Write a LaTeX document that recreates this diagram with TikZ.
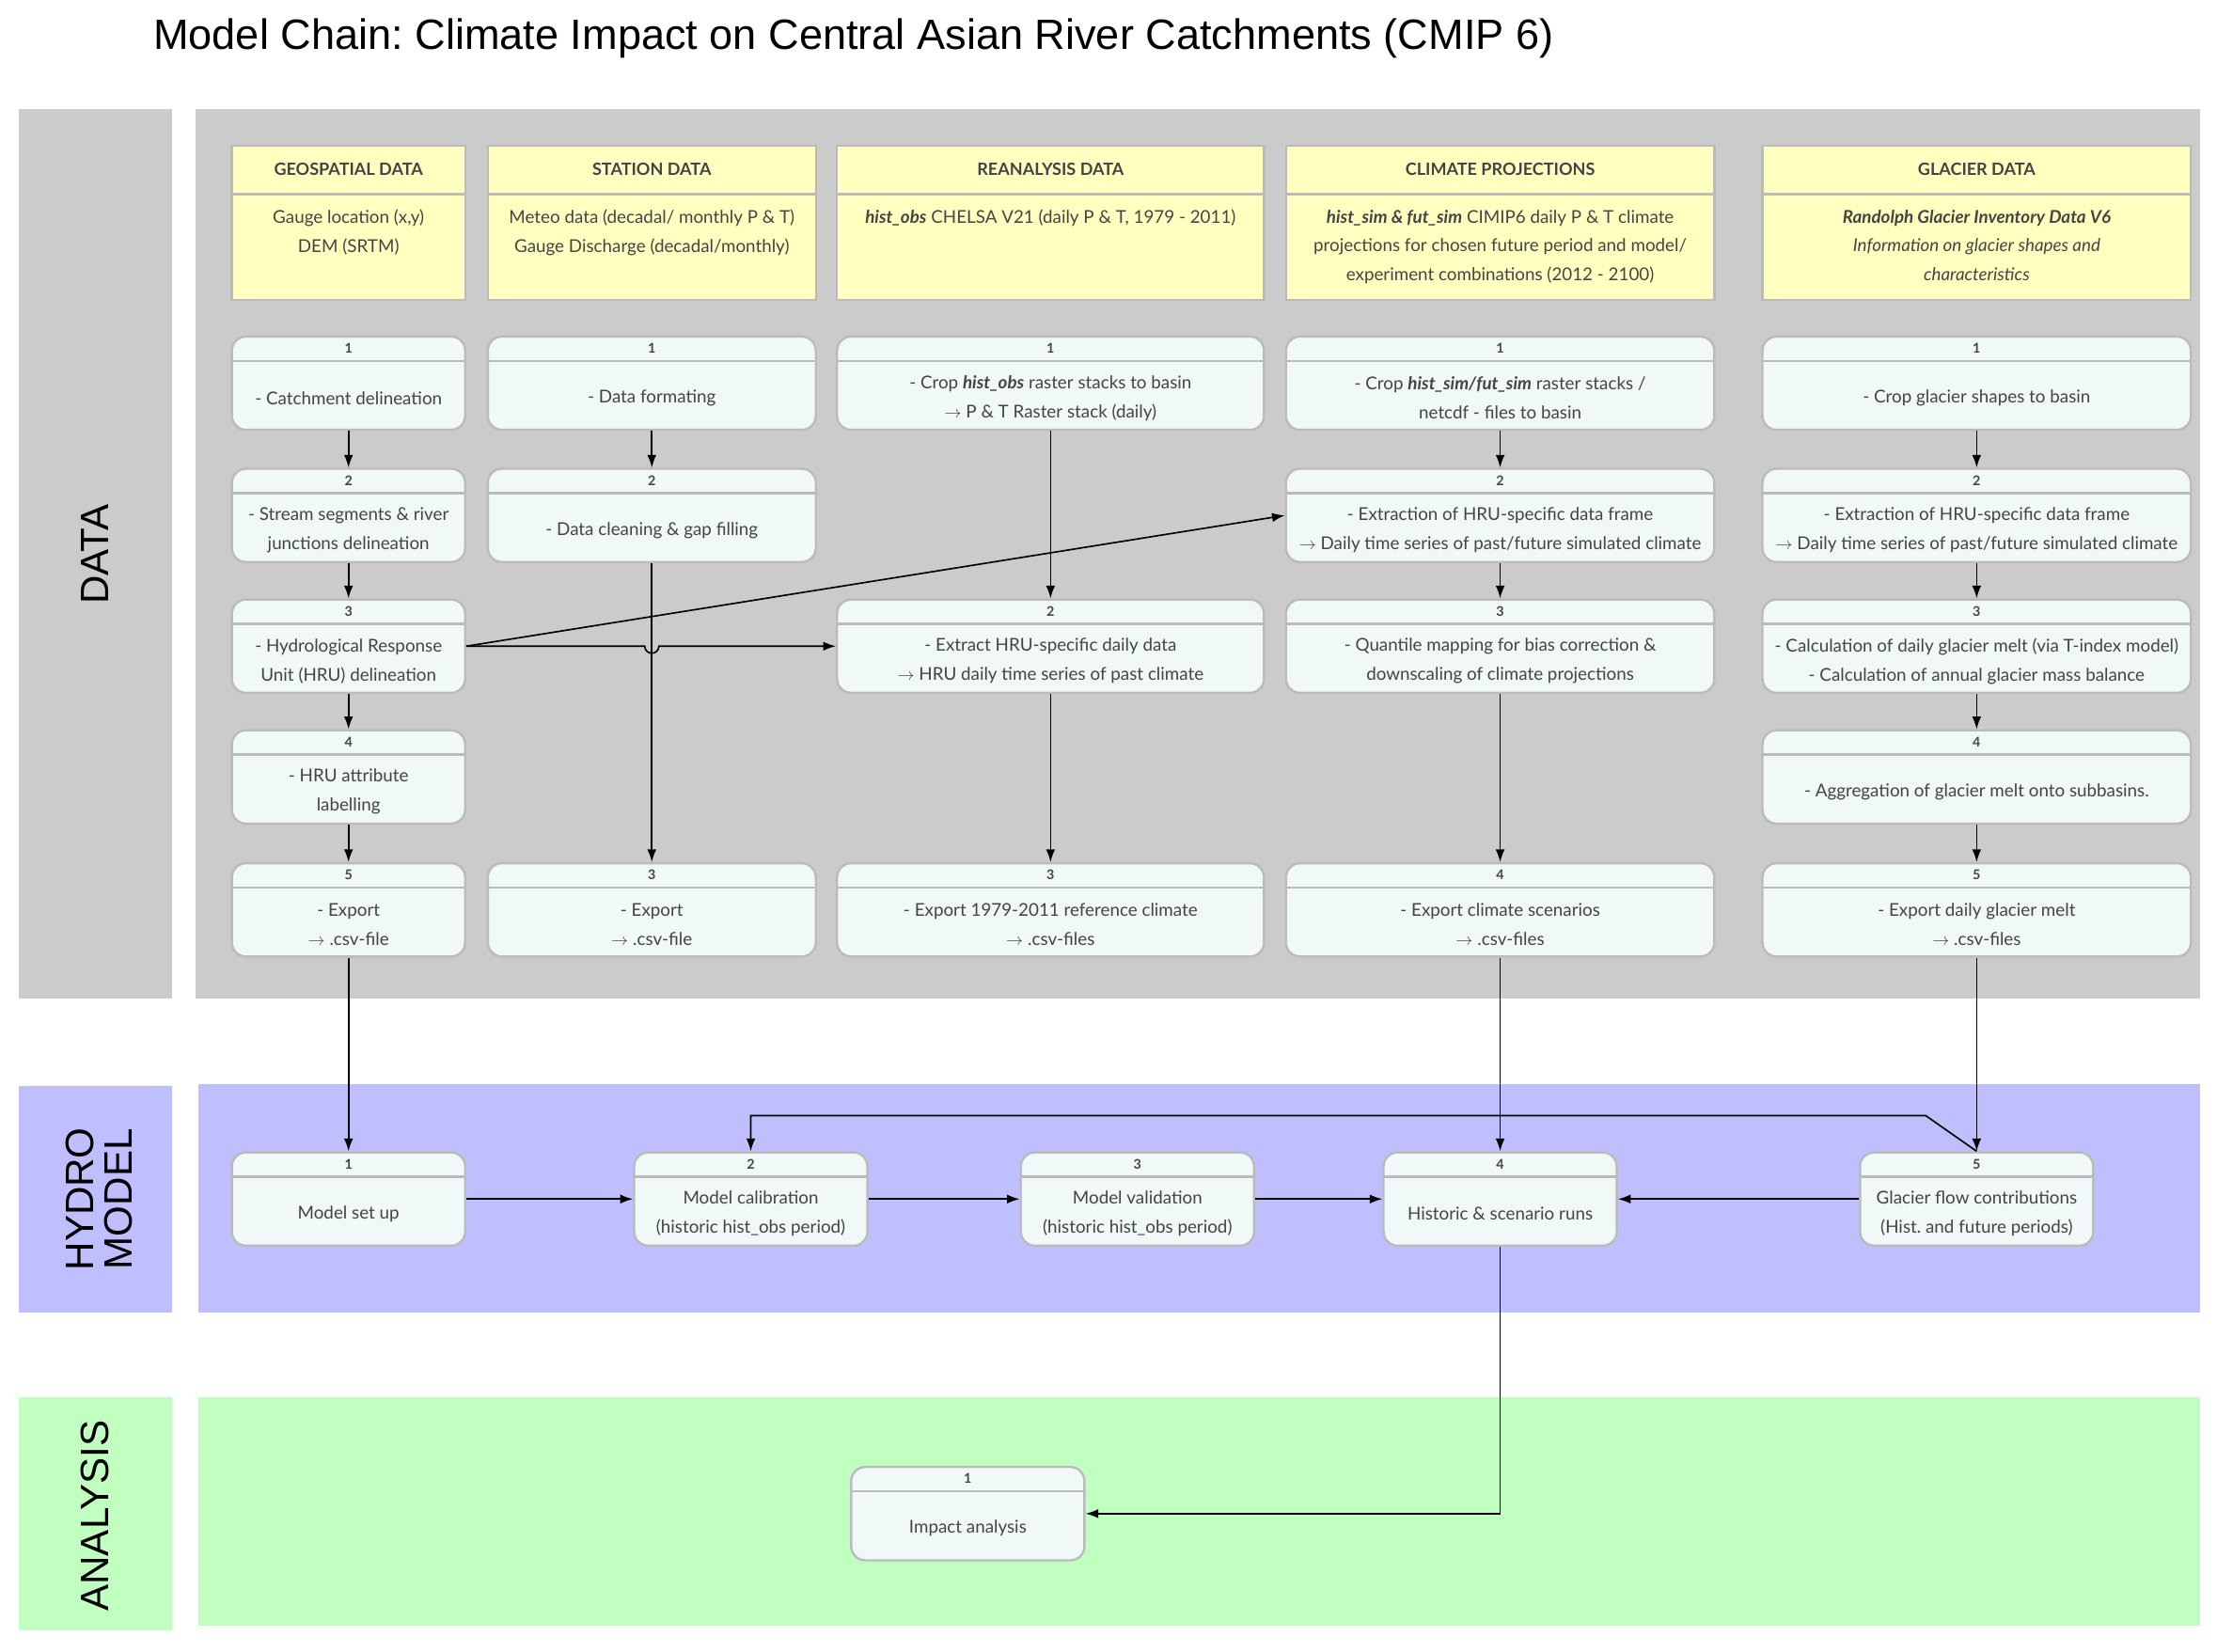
\documentclass[tikz,border=0pt]{standalone}
\usepackage{fontspec}
\setmainfont{Lato}
\newfontfamily\titlefont{Liberation Sans}
\usetikzlibrary{arrows.meta}
\frenchspacing

\definecolor{lanegray}{HTML}{CBCBCB}
\definecolor{lanehydro}{HTML}{BFBFFF}
\definecolor{laneana}{HTML}{C0FFC0}
\definecolor{notefill}{HTML}{FFFFC0}
\definecolor{boxfill}{HTML}{F0F8F8}
\definecolor{boxline}{HTML}{BBBBBB}
\definecolor{boxtext}{HTML}{444444}

\newcommand{\bfit}[1]{\textbf{\textit{#1}}}
\newcommand{\ra}{$\rightarrow$}

\tikzset{
  lanelabel/.style={font=\titlefont\fontsize{28}{27}\selectfont, rotate=90, align=center},
  procbox/.style={draw=boxline, line width=1.6pt, fill=boxfill, rounded corners=10pt,
    minimum height=66pt, inner sep=0pt},
  notebox/.style={draw=boxline, line width=1.6pt, fill=notefill, minimum height=109pt, inner sep=0pt},
  divider/.style={draw=boxline, line width=1.6pt},
  numtext/.style={font=\bfseries\fontsize{9.5}{10}\selectfont, text=boxtext},
  headtext/.style={font=\bfseries\fontsize{12}{13}\selectfont, text=boxtext},
  bodytext/.style={font=\fontsize{12.5}{20.5}\selectfont, text=boxtext, align=center, inner sep=0pt},
  flow/.style={-{Latex[length=9pt,width=6.5pt]}, line width=1.1pt},
}

% step box: name, position, width, number, text
\newcommand{\procnode}[5]{%
  \node[procbox, minimum width=#3] (#1) at (#2) {};
  \draw[divider] ([yshift=-18pt]#1.north west) -- ([yshift=-18pt]#1.north east);
  \node[numtext] (#1-n) at ([yshift=-9pt]#1.north) {#4};
  \node[bodytext] (#1-t) at ([yshift=-10.5pt]#1.center) {#5};
}
% data source box: name, position, width, title, text
\newcommand{\datanode}[5]{%
  \node[notebox, minimum width=#3] (#1) at (#2) {};
  \draw[divider] ([yshift=-35pt]#1.north west) -- ([yshift=-35pt]#1.north east);
  \node[headtext] (#1-n) at ([yshift=-17.5pt]#1.north) {#4};
  \node[bodytext, anchor=north] (#1-t) at ([yshift=-46pt]#1.north) {#5};
}

\begin{document}
\begin{tikzpicture}[x=1pt, y=-1pt]

	\useasboundingbox (0,0) rectangle (1568,1167.7);

	\node[anchor=west, font=\titlefont\fontsize{30}{32}\selectfont] (title) at (105,27)
		{Model Chain: Climate Impact on Central Asian River Catchments (CMIP 6)};

	% lanes
	\fill[lanegray] (13,77) rectangle (122,706);
	\fill[lanegray] (138,77) rectangle (1556,706);
	\fill[lanehydro] (13,768) rectangle (122,928);
	\fill[lanehydro] (140,767) rectangle (1556,928);
	\fill[laneana] (13,988) rectangle (122,1153);
	\fill[laneana] (140,988) rectangle (1556,1150);

	\node[lanelabel] (ldata) at (67,392) {DATA};
	\node[lanelabel] (lhydro) at (70,848) {HYDRO\\MODEL};
	\node[lanelabel] (lana) at (67,1072) {ANALYSIS};

	% data sources
	\datanode{geo}{246.5,157.5}{165pt}{GEOSPATIAL DATA}{Gauge location (x,y)\\DEM (SRTM)}
	\datanode{sta}{461,157.5}{232pt}{STATION DATA}{Meteo data (decadal/ monthly P \& T)\\Gauge Discharge (decadal/monthly)}
	\datanode{rea}{743,157.5}{302pt}{REANALYSIS DATA}{\bfit{hist\_obs} CHELSA V21 (daily P \& T, 1979 - 2011)}
	\datanode{cli}{1061,157.5}{303pt}{CLIMATE PROJECTIONS}{\bfit{hist\_sim \& fut\_sim} CIMIP6 daily P \& T climate\\projections for chosen future period and model/\\experiment combinations (2012 - 2100)}
	\datanode{gla}{1398,157.5}{303pt}{GLACIER DATA}{\bfit{Randolph Glacier Inventory Data V6}\\\textit{Information on glacier shapes and}\\\textit{characteristics}}

	% geospatial steps
	\procnode{g1}{246.5,271}{165pt}{1}{- Catchment delineation}
	\procnode{g2}{246.5,364.5}{165pt}{2}{- Stream segments \& river\\junctions delineation}
	\procnode{g3}{246.5,457}{165pt}{3}{- Hydrological Response\\Unit (HRU) delineation}
	\procnode{g4}{246.5,549.5}{165pt}{4}{- HRU attribute\\labelling}
	\procnode{g5}{246.5,643.5}{165pt}{5}{- Export\\\ra\ .csv-file}

	% station steps
	\procnode{s1}{461,271}{232pt}{1}{- Data formating}
	\procnode{s2}{461,364.5}{232pt}{2}{- Data cleaning \& gap filling}
	\procnode{s3}{461,643.5}{232pt}{3}{- Export\\\ra\ .csv-file}

	% reanalysis steps
	\procnode{r1}{743,271}{302pt}{1}{- Crop \bfit{hist\_obs} raster stacks to basin\\\ra\ P \& T Raster stack (daily)}
	\procnode{r2}{743,457}{302pt}{2}{- Extract HRU-specific daily data\\\ra\ HRU daily time series of past climate}
	\procnode{r3}{743,643.5}{302pt}{3}{- Export 1979-2011 reference climate\\\ra\ .csv-files}

	% climate projection steps
	\procnode{c1}{1061,271}{303pt}{1}{- Crop \bfit{hist\_sim/fut\_sim} raster stacks /\\netcdf - files to basin}
	\procnode{c2}{1061,364.5}{303pt}{2}{- Extraction of HRU-specific data frame\\\ra\ Daily time series of past/future simulated climate}
	\procnode{c3}{1061,457}{303pt}{3}{- Quantile mapping for bias correction \&\\downscaling of climate projections}
	\procnode{c4}{1061,643.5}{303pt}{4}{- Export climate scenarios\\\ra\ .csv-files}

	% glacier steps
	\procnode{gl1}{1398,271}{303pt}{1}{- Crop glacier shapes to basin}
	\procnode{gl2}{1398,364.5}{303pt}{2}{- Extraction of HRU-specific data frame\\\ra\ Daily time series of past/future simulated climate}
	\procnode{gl3}{1398,457}{303pt}{3}{- Calculation of daily glacier melt (via T-index model)\\- Calculation of annual glacier mass balance}
	\procnode{gl4}{1398,549.5}{303pt}{4}{- Aggregation of glacier melt onto subbasins.}
	\procnode{gl5}{1398,643.5}{303pt}{5}{- Export daily glacier melt\\\ra\ .csv-files}

	% hydro model
	\procnode{hm1}{246.5,848}{165pt}{1}{Model set up}
	\procnode{hm2}{531,848}{165pt}{2}{Model calibration\\(historic hist\_obs period)}
	\procnode{hm3}{804.5,848}{165pt}{3}{Model validation\\(historic hist\_obs period)}
	\procnode{hm4}{1061,848}{165pt}{4}{Historic \& scenario runs}
	\procnode{hm5}{1398,848}{165pt}{5}{Glacier flow contributions\\(Hist. and future periods)}

	% analysis
	\procnode{an1}{684.5,1070.5}{165pt}{1}{Impact analysis}

	% connectors
	\draw[flow] (g1) -- (g2);
	\draw[flow] (g2) -- (g3);
	\draw[flow] (g3) -- (g4);
	\draw[flow] (g4) -- (g5);
	\draw[flow] (g5) -- (hm1);

	\draw[flow] (s1) -- (s2);
	\draw[flow] (s2) -- (s3);

	\draw[flow] (r1) -- (r2);
	\draw[flow] (r2) -- (r3);

	\draw[flow] (c1) -- (c2);
	\draw[flow] (c2) -- (c3);
	\draw[flow] (c3) -- (c4);
	\draw[flow] (c4) -- (hm4);

	\draw[flow] (gl1) -- (gl2);
	\draw[flow] (gl2) -- (gl3);
	\draw[flow] (gl3) -- (gl4);
	\draw[flow] (gl4) -- (gl5);
	\draw[flow] (gl5) -- (hm5);

	\draw[flow] (g3.east) -- (456,457) arc[start angle=180, end angle=360, radius=5pt] -- (r2.west);
	\draw[flow] (g3.east) -- (c2.west);

	\draw[flow] (hm1) -- (hm2);
	\draw[flow] (hm2) -- (hm3);
	\draw[flow] (hm3) -- (hm4);
	\draw[flow] (hm5) -- (hm4);

	\coordinate (bend) at (1362,789);
	\draw[flow] (hm5.north) -- (bend) -| (hm2.north);
	\draw[flow] (hm4.south) |- (an1.east);

\end{tikzpicture}
\end{document}
